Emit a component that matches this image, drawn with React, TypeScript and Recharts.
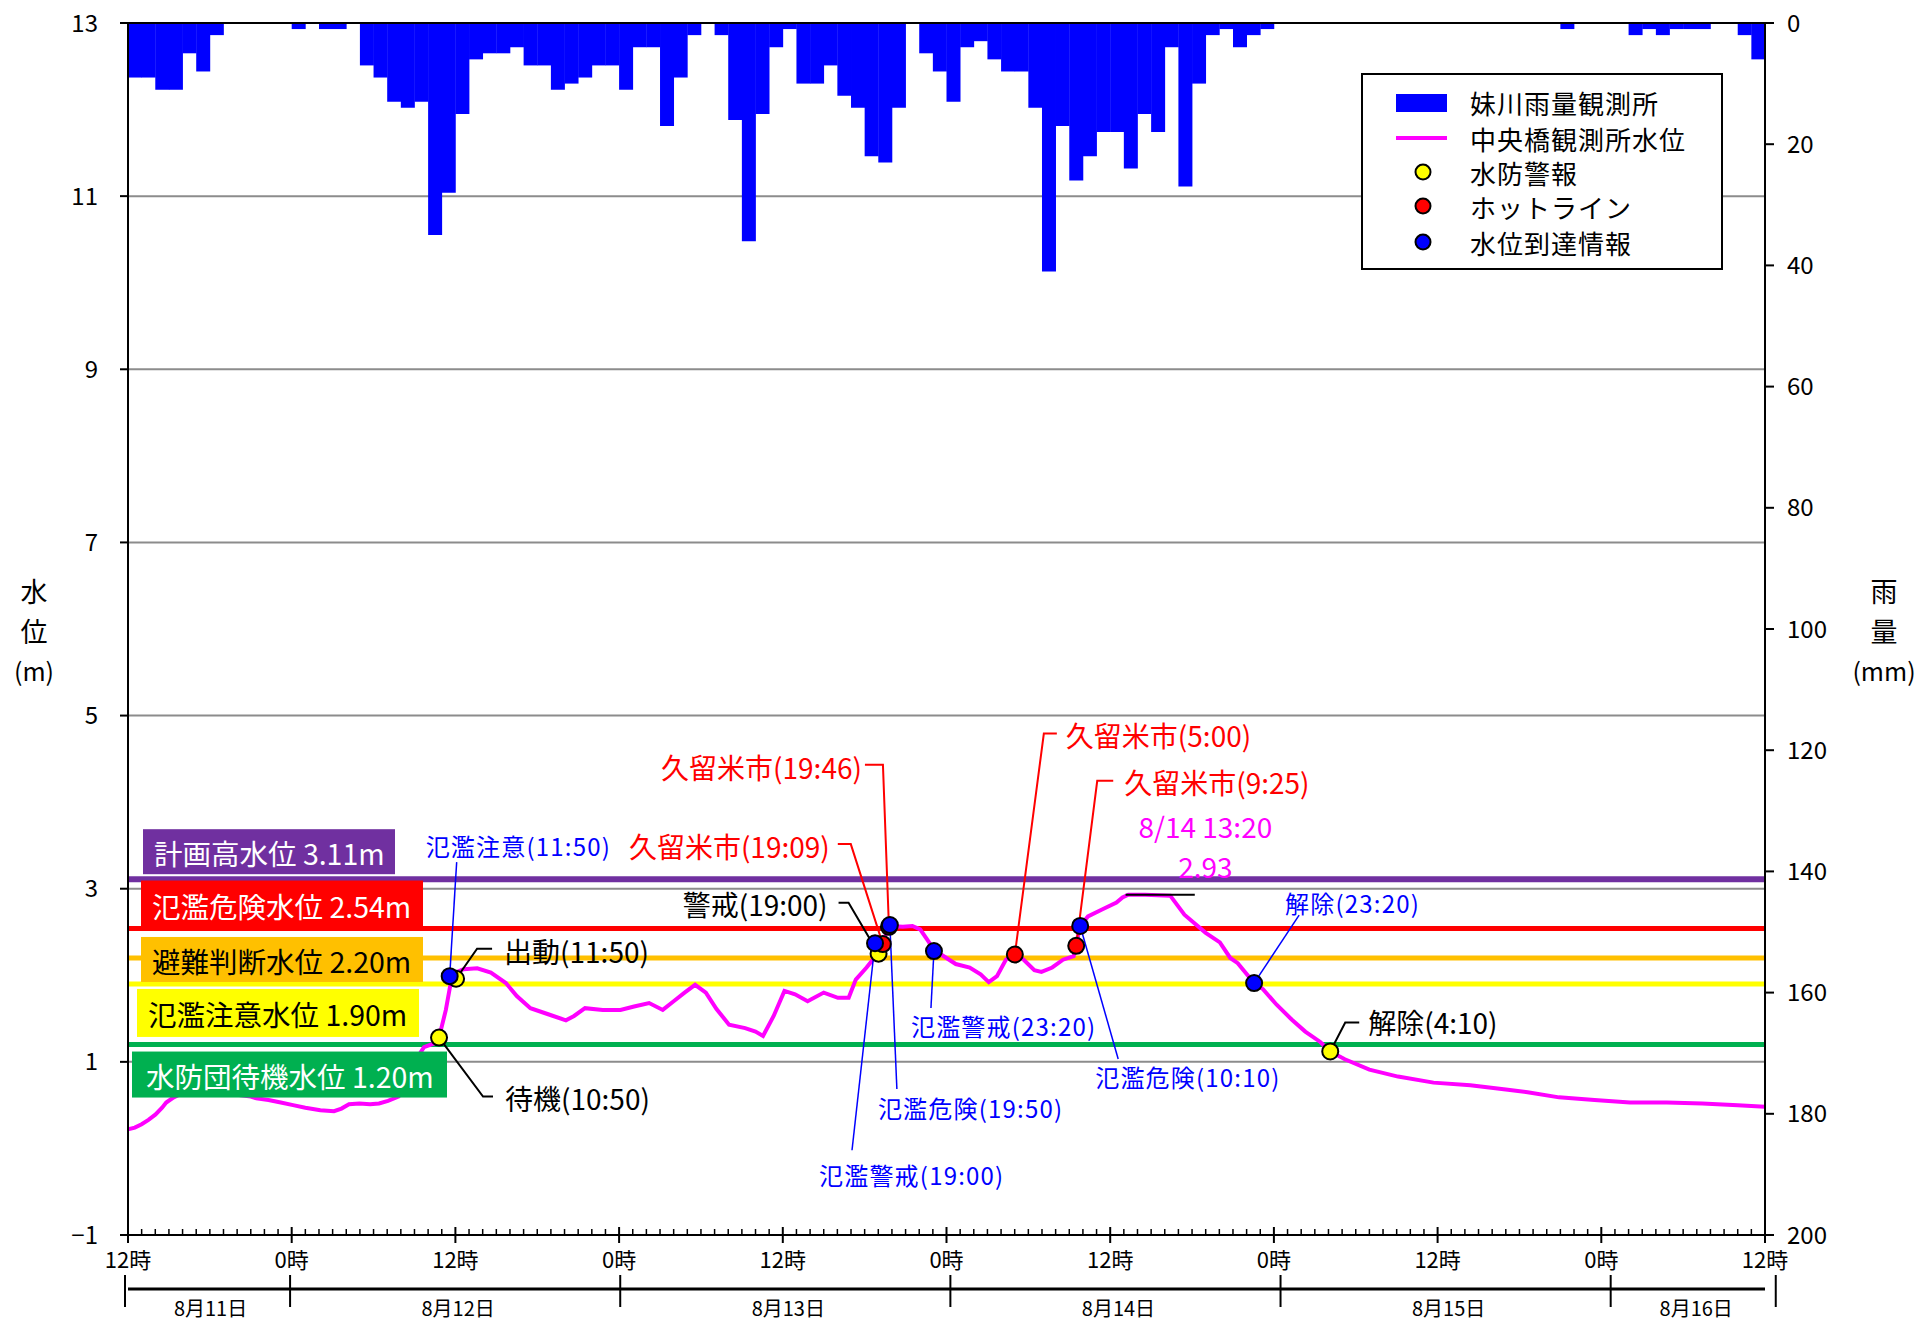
import React from "react";
import {
  ComposedChart,
  Bar,
  Line,
  Scatter,
  XAxis,
  YAxis,
  CartesianGrid,
  ReferenceLine,
  Legend,
} from "recharts";

const FONT = '"Noto Sans CJK JP", "Noto Sans", sans-serif';

// hours counted from 8/11 12時; rainfall is per hour (mm)
const rainfall = [
  9, 9, 11, 11, 5, 8, 2, 0, 0, 0, 0, 0,
  1, 0, 1, 1, 0, 7, 9, 13, 14, 13, 35, 28,
  15, 6, 5, 5, 4, 7, 7, 11, 10, 9, 7, 7,
  11, 4, 4, 17, 9, 2, 0, 2, 16, 36, 15, 4,
  1, 10, 10, 7, 12, 14, 22, 23, 14, 0, 5, 8,
  13, 4, 3, 6, 8, 8, 14, 41, 17, 26, 22, 18,
  18, 24, 15, 18, 4, 27, 10, 2, 1, 4, 2, 1,
  0, 0, 0, 0, 0, 0, 0, 0, 0, 0, 0, 0,
  0, 0, 0, 0, 0, 0, 0, 0, 0, 1, 0, 0,
  0, 0, 2, 1, 2, 1, 1, 1, 0, 0, 2, 6,
];

// [hour, level m]
const waterLevel: [number, number][] = [
  [0, 0.22], [0.5, 0.24], [1, 0.28], [1.5, 0.33], [2, 0.39], [2.5, 0.47], [2.8, 0.53],
  [3.35, 0.59], [4, 0.64], [5, 0.66], [6, 0.66], [7, 0.64], [8, 0.62], [9, 0.6],
  [9.4, 0.58], [10.3, 0.56], [11.2, 0.53], [12.1, 0.5], [13, 0.47], [14.1, 0.44],
  [15.1, 0.43], [15.65, 0.46], [16.2, 0.51], [16.96, 0.52], [17.75, 0.51], [18.4, 0.52],
  [19.06, 0.55], [19.84, 0.6], [20.5, 0.85], [21.2, 1.05], [21.7, 1.17], [22.2, 1.2],
  [22.6, 1.22], [22.83, 1.3], [23.3, 1.6], [23.7, 1.95], [24.0, 2.03], [24.6, 2.07],
  [25.6, 2.08], [26.6, 2.03], [27.7, 1.91], [28.5, 1.76], [29.5, 1.62], [30.8, 1.55],
  [32.1, 1.48], [32.7, 1.53], [33.5, 1.62], [34.8, 1.6], [36.1, 1.6], [37.1, 1.64],
  [38.2, 1.68], [39.2, 1.6], [40.0, 1.7], [40.8, 1.8], [41.57, 1.89], [42.36, 1.8],
  [43.14, 1.61], [44.06, 1.43], [45.24, 1.39], [46.0, 1.35], [46.55, 1.3], [47.33, 1.53],
  [48.12, 1.82], [48.9, 1.78], [49.82, 1.7], [51.0, 1.8], [52.04, 1.74], [52.83, 1.74],
  [53.35, 1.95], [54.14, 2.09], [54.8, 2.22], [55.1, 2.3], [55.5, 2.45], [55.8, 2.57],
  [56.8, 2.56], [57.5, 2.57], [58.07, 2.53], [58.6, 2.41], [59.06, 2.3], [59.6, 2.24],
  [60.68, 2.13], [61.7, 2.09], [62.5, 2.01], [63.1, 1.92], [63.7, 1.99], [64.35, 2.18],
  [65.0, 2.26], [65.66, 2.18], [66.44, 2.06], [66.96, 2.04], [67.75, 2.09], [68.54, 2.18],
  [69.32, 2.22], [69.8, 2.57], [70.37, 2.68], [71.4, 2.76], [72.46, 2.84], [72.9, 2.9],
  [73.33, 2.93], [74.56, 2.93], [76.4, 2.92], [77.44, 2.7], [79.0, 2.49], [80.04, 2.38],
  [80.8, 2.2], [81.35, 2.14], [82.5, 1.92], [83.2, 1.84], [84.2, 1.66], [85.3, 1.49],
  [86.3, 1.35], [87.4, 1.23], [88.13, 1.12], [89.2, 1.03], [91.0, 0.91], [93.1, 0.83],
  [95.7, 0.76], [98.4, 0.73], [101, 0.68], [102.6, 0.65], [104.9, 0.59], [107.5, 0.56],
  [110.1, 0.53], [112.8, 0.53], [115.4, 0.52], [118, 0.5], [120, 0.48],
];

const levelTicks = [-1, 1, 3, 5, 7, 9, 11, 13];
const rainTicks = [0, 20, 40, 60, 80, 100, 120, 140, 160, 180, 200];
const hourTicks = Array.from({ length: 121 }, (_, i) => i);
const dayBounds = [0, 12, 36, 60, 84, 108, 120];
const dayLabels = ["8月11日", "8月12日", "8月13日", "8月14日", "8月15日", "8月16日"];

const thresholdNames = ["計画高水位", "氾濫危険水位", "避難判断水位", "氾濫注意水位", "水防団待機水位"];
const thresholdValues = [3.11, 2.54, 2.2, 1.9, 1.2];

// 水防警報
const suibouAlerts = [
  { t: 22.8, level: 1.28, text: "待機(10:50)" },
  { t: 24.05, level: 1.96, text: "出動(11:50)" },
  { t: 55.02, level: 2.25, text: "警戒(19:00)" },
  { t: 88.13, level: 1.12, text: "解除(4:10)" },
];
// ホットライン
const hotlines = [
  { t: 55.33, level: 2.36, text: "久留米市(19:09)" },
  { t: 55.78, level: 2.56, text: "久留米市(19:46)" },
  { t: 65.01, level: 2.24, text: "久留米市(5:00)" },
  { t: 69.51, level: 2.34, text: "久留米市(9:25)" },
];
// 水位到達情報
const reachNotices = [
  { t: 23.58, level: 1.99, text: "氾濫注意(11:50)" },
  { t: 54.76, level: 2.37, text: "氾濫警戒(19:00)" },
  { t: 55.85, level: 2.58, text: "氾濫危険(19:50)" },
  { t: 59.08, level: 2.28, text: "氾濫警戒(23:20)" },
  { t: 69.8, level: 2.57, text: "氾濫危険(10:10)" },
  { t: 82.55, level: 1.91, text: "解除(23:20)" },
];
const peak = [{ t: 73.33, level: 2.93, date: "8/14 13:20" }];
const peakMarkEnd = 78.2;

const rainRows = rainfall.map((mm, i) => ({ t: i + 0.5, mm }));
const levelRows = waterLevel.map(([t, level]) => ({ t, level }));

// styling ---------------------------------------------------------------
const thresholdStyle = [
  { line: "#7030A0", ink: "#fff", left: 15, top: -50, w: 252, h: 45, pad: 11, lw: 6 },
  { line: "#FF0000", ink: "#fff", left: 13, top: -48, w: 282, h: 47, pad: 11, lw: 5 },
  { line: "#FFC000", ink: "#000", left: 13, top: -21, w: 282, h: 45, pad: 11, lw: 5 },
  { line: "#FFFF00", ink: "#000", left: 9, top: 5, w: 282, h: 48, pad: 11, lw: 5 },
  { line: "#00B050", ink: "#fff", left: 4, top: 7, w: 315, h: 46, pad: 14, lw: 5 },
];

type Callout = { leader: number[][]; tx: number; ty: number; anchor: "start" | "end" };
const callouts: Record<string, Callout> = {
  "待機(10:50)": { leader: [[44, 59], [54, 59]], tx: 66, ty: 60, anchor: "start" },
  "出動(11:50)": { leader: [[21, -30], [36, -30]], tx: 48, ty: -28, anchor: "start" },
  "警戒(19:00)": { leader: [[-30, -51], [-40, -51]], tx: -51, ty: -50, anchor: "end" },
  "解除(4:10)": { leader: [[15, -29], [29, -29]], tx: 38, ty: -29, anchor: "start" },
  "久留米市(19:09)": { leader: [[-32, -100], [-45, -100]], tx: -53, ty: -98, anchor: "end" },
  "久留米市(19:46)": { leader: [[-6, -162], [-24, -162]], tx: -27, ty: -160, anchor: "end" },
  "久留米市(5:00)": { leader: [[29, -221], [42, -221]], tx: 51, ty: -220, anchor: "start" },
  "久留米市(9:25)": { leader: [[21, -165], [37, -165]], tx: 48, ty: -164, anchor: "start" },
  "氾濫注意(11:50)": { leader: [[7, -114]], tx: -24, ty: -131, anchor: "start" },
  "氾濫警戒(19:00)": { leader: [[-23, 207]], tx: -56, ty: 231, anchor: "start" },
  "氾濫危険(19:50)": { leader: [[7, 164]], tx: -12, ty: 182, anchor: "start" },
  "氾濫警戒(23:20)": { leader: [[-3, 57]], tx: -23, ty: 74, anchor: "start" },
  "氾濫危険(10:10)": { leader: [[38, 133]], tx: 15, ty: 151, anchor: "start" },
  "解除(23:20)": { leader: [[45, -68]], tx: 31, ty: -81, anchor: "start" },
};

function makeCallout(ink: string, fontSize: number, lw: number, spacing = 0) {
  return (props: any) => {
    const { cx, cy, payload } = props;
    const c = callouts[payload?.text];
    if (!c || cx == null || cy == null) return <g />;
    const pts = [[cx, cy], ...c.leader.map(([dx, dy]) => [cx + dx, cy + dy])];
    return (
      <g>
        <polyline
          points={pts.map((p) => p.join(",")).join(" ")}
          fill="none"
          stroke={ink}
          strokeWidth={lw}
        />
        <text
          x={cx + c.tx}
          y={cy + c.ty}
          fill={ink}
          fontSize={fontSize}
          fontFamily={FONT}
          letterSpacing={spacing}
          textAnchor={c.anchor}
          dominantBaseline="central"
        >
          {payload.text}
        </text>
      </g>
    );
  };
}

function makeMarker(fill: string) {
  return (props: any) => {
    const { cx, cy } = props;
    if (cx == null || cy == null) return <g />;
    return <circle cx={cx} cy={cy} r={8} fill={fill} stroke="#000" strokeWidth={2} />;
  };
}

function PeakText(props: any) {
  const { cx, cy, payload } = props;
  if (cx == null || cy == null) return <g />;
  return (
    <g fill="#FF00FF" fontSize={28} fontFamily={FONT} textAnchor="middle">
      <text x={cx + 77} y={cy - 69} dominantBaseline="central">{payload.date}</text>
      <text x={cx + 77} y={cy - 29} dominantBaseline="central">{payload.level.toFixed(2)}</text>
    </g>
  );
}

function ThresholdBox({ viewBox, idx }: any) {
  if (!viewBox) return null;
  const s = thresholdStyle[idx];
  const x = viewBox.x + s.left;
  const y = viewBox.y + s.top;
  return (
    <g>
      <rect x={x} y={y} width={s.w} height={s.h} fill={s.line} />
      <text
        x={x + s.pad}
        y={y + s.h / 2 + 1}
        fill={s.ink}
        fontSize={28.5}
        fontFamily={FONT}
        dominantBaseline="central"
      >
        {`${thresholdNames[idx]} ${thresholdValues[idx].toFixed(2)}m`}
      </text>
    </g>
  );
}

function HourTick({ x, y, payload }: any) {
  const h = payload.value;
  if (h % 12 !== 0) {
    return <line x1={x} x2={x} y1={y} y2={y - 6} stroke="#000" strokeWidth={1.5} />;
  }
  return (
    <g>
      <line x1={x} x2={x} y1={y - 8} y2={y + 8} stroke="#000" strokeWidth={2} />
      <text
        x={x}
        y={y + 23}
        textAnchor="middle"
        dominantBaseline="central"
        fontSize={22}
        fontFamily={FONT}
        fill="#000"
      >
        {h % 24 === 12 ? "0時" : "12時"}
      </text>
    </g>
  );
}

const dayMids = dayLabels.map((_, i) => (dayBounds[i] + dayBounds[i + 1]) / 2);
const dateTicks = [...dayBounds, ...dayMids].sort((a, b) => a - b);

function DateTick({ x, y, payload }: any) {
  const v = payload.value;
  const mi = dayMids.indexOf(v);
  if (mi >= 0) {
    return (
      <text
        x={x}
        y={y + 18}
        textAnchor="middle"
        dominantBaseline="central"
        fontSize={20}
        fontFamily={FONT}
        fill="#000"
      >
        {dayLabels[mi]}
      </text>
    );
  }
  return <line x1={x - 3} x2={x - 3} y1={y - 14} y2={y + 18} stroke="#000" strokeWidth={2} />;
}

function AxisTitle({ viewBox, chars, dx, small }: any) {
  const vb = viewBox ?? { x: 0, y: 23, width: 60, height: 1212 };
  const x = vb.x + dx;
  const cy = vb.y + vb.height / 2;
  return (
    <g fill="#000" fontFamily={FONT} textAnchor="middle">
      <text x={x} y={cy - 39} fontSize={27} dominantBaseline="central">{chars[0]}</text>
      <text x={x} y={cy + 1} fontSize={27} dominantBaseline="central">{chars[1]}</text>
      <text x={x} y={cy + 41} fontSize={small} dominantBaseline="central">{chars[2]}</text>
    </g>
  );
}

function LegendBox() {
  const rowY = [29, 65, 99, 133, 169];
  const names = ["妹川雨量観測所", "中央橋観測所水位", "水防警報", "ホットライン", "水位到達情報"];
  const dots = ["#FFFF00", "#FF0000", "#0000FF"];
  return (
    <svg width={364} height={198} style={{ display: "block" }}>
      <rect x={1} y={1} width={360} height={195} fill="#fff" stroke="#000" strokeWidth={2} />
      <rect x={35} y={21} width={51} height={18} fill="#0000FF" />
      <line x1={35} x2={86} y1={65} y2={65} stroke="#FF00FF" strokeWidth={4} />
      {dots.map((c, i) => (
        <circle key={c} cx={62} cy={rowY[i + 2]} r={7.5} fill={c} stroke="#000" strokeWidth={2} />
      ))}
      {names.map((n, i) => (
        <text
          key={n}
          x={109}
          y={rowY[i]}
          fontSize={26}
          letterSpacing={1}
          fontFamily={FONT}
          fill="#000"
          dominantBaseline="central"
        >
          {n}
        </text>
      ))}
    </svg>
  );
}

const minusSign = (v: number) => String(v).replace("-", "\u2212");

export default function App() {
  return (
    <div
      style={{
        position: "absolute",
        left: 0,
        top: 0,
        width: 1922,
        height: 1328,
        background: "#fff",
        fontFamily: FONT,
      }}
    >
      <ComposedChart
        width={1922}
        height={1328}
        data={rainRows}
        margin={{ top: 23, right: 77, bottom: 0, left: 68 }}
        barCategoryGap={0}
        barGap={0}
      >
        <CartesianGrid xAxisId="a" yAxisId="level" vertical={false} stroke="#8c8c8c" strokeWidth={2} />
        <XAxis
          xAxisId="a"
          dataKey="t"
          type="number"
          domain={[0, 120]}
          allowDataOverflow
          ticks={hourTicks}
          interval={0}
          tick={<HourTick />}
          tickLine={false}
          tickSize={0}
          tickMargin={0}
          height={54}
          axisLine={{ stroke: "#000", strokeWidth: 2 }}
        />
        <XAxis
          xAxisId="b"
          type="number"
          domain={[0, 120]}
          allowDataOverflow
          ticks={dateTicks}
          interval={0}
          tick={<DateTick />}
          tickLine={false}
          tickSize={0}
          tickMargin={0}
          height={39}
          axisLine={{ stroke: "#000", strokeWidth: 3 }}
        />
        <XAxis xAxisId="t" dataKey="t" type="number" domain={[0, 120]} allowDataOverflow hide />
        <YAxis
          yAxisId="level"
          domain={[-1, 13]}
          allowDataOverflow
          ticks={levelTicks}
          interval={0}
          width={60}
          axisLine={{ stroke: "#000", strokeWidth: 2 }}
          tickLine={{ stroke: "#000", strokeWidth: 2 }}
          tickSize={8}
          tickMargin={22}
          tickFormatter={minusSign}
          tick={{ fontSize: 24, fill: "#000", fontFamily: FONT }}
          label={(p: any) => <AxisTitle {...p} chars={["水", "位", "(m)"]} dx={-34} small={25} />}
        />
        <YAxis
          yAxisId="rain"
          orientation="right"
          reversed
          domain={[0, 200]}
          allowDataOverflow
          ticks={rainTicks}
          interval={0}
          width={80}
          axisLine={{ stroke: "#000", strokeWidth: 2 }}
          tickLine={{ stroke: "#000", strokeWidth: 2 }}
          tickSize={9}
          tickMargin={13}
          tick={{ fontSize: 24, fill: "#000", fontFamily: FONT }}
          label={(p: any) => <AxisTitle {...p} chars={["雨", "量", "(mm)"]} dx={119} small={25} />}
        />

        <Bar xAxisId="a" yAxisId="rain" dataKey="mm" fill="#0000FF" isAnimationActive={false} />
        <ReferenceLine xAxisId="a" yAxisId="level" y={13} stroke="#000" strokeWidth={2} />

        {thresholdValues.map((v, i) => (
          <ReferenceLine
            key={`th-${i}`}
            xAxisId="a"
            yAxisId="level"
            y={v}
            stroke={thresholdStyle[i].line}
            strokeWidth={thresholdStyle[i].lw}
          />
        ))}

        <Line
          xAxisId="t"
          yAxisId="level"
          data={levelRows}
          dataKey="level"
          type="linear"
          stroke="#FF00FF"
          strokeWidth={4}
          dot={false}
          isAnimationActive={false}
        />

        {thresholdValues.map((v, i) => (
          <ReferenceLine
            key={`box-${i}`}
            xAxisId="a"
            yAxisId="level"
            y={v}
            stroke="none"
            label={(p: any) => <ThresholdBox {...p} idx={i} />}
          />
        ))}

        <ReferenceLine
          xAxisId="t"
          yAxisId="level"
          segment={[
            { x: peak[0].t - 0.2, y: peak[0].level },
            { x: peakMarkEnd, y: peak[0].level },
          ]}
          stroke="#000"
          strokeWidth={2}
        />
        <Scatter xAxisId="t" yAxisId="level" data={peak} dataKey="level" shape={PeakText} isAnimationActive={false} />

        <Scatter xAxisId="t" yAxisId="level" data={suibouAlerts} dataKey="level" shape={makeCallout("#000", 28, 2)} isAnimationActive={false} />
        <Scatter xAxisId="t" yAxisId="level" data={hotlines} dataKey="level" shape={makeCallout("#FF0000", 28, 2)} isAnimationActive={false} />
        <Scatter xAxisId="t" yAxisId="level" data={reachNotices} dataKey="level" shape={makeCallout("#0000FF", 24, 1.5, 1.2)} isAnimationActive={false} />

        <Scatter xAxisId="t" yAxisId="level" data={suibouAlerts} dataKey="level" shape={makeMarker("#FFFF00")} isAnimationActive={false} />
        <Scatter xAxisId="t" yAxisId="level" data={hotlines} dataKey="level" shape={makeMarker("#FF0000")} isAnimationActive={false} />
        <Scatter xAxisId="t" yAxisId="level" data={reachNotices} dataKey="level" shape={makeMarker("#0000FF")} isAnimationActive={false} />

        <Legend
          layout="vertical"
          align="center"
          verticalAlign="middle"
          content={() => <LegendBox />}
          wrapperStyle={{ position: "absolute", left: 1361, top: 73, width: 364, height: 198 }}
        />
      </ComposedChart>
    </div>
  );
}
